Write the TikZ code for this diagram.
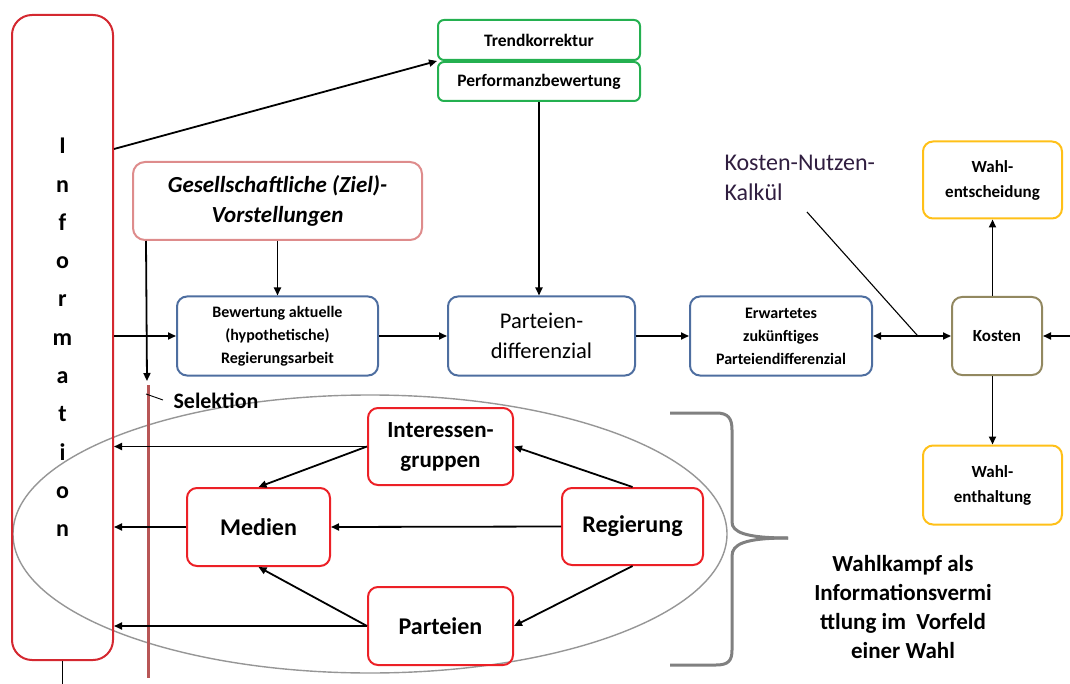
\documentclass[tikz,border=0pt]{standalone}
\usepackage{fontspec}
\setmainfont{Carlito}
\usetikzlibrary{arrows.meta,calc}
\definecolor{infored}{RGB}{212,40,48}
\definecolor{boxred}{RGB}{236,32,38}
\definecolor{zielred}{RGB}{222,140,140}
\definecolor{trendgreen}{RGB}{36,176,80}
\definecolor{bewblue}{RGB}{78,110,160}
\definecolor{kostenolive}{RGB}{146,136,96}
\definecolor{wahlyellow}{RGB}{255,192,24}
\definecolor{selred}{RGB}{184,86,86}
\definecolor{ovalgray}{RGB}{150,150,150}
\definecolor{bracegray}{RGB}{128,128,128}
\definecolor{kalkcol}{RGB}{48,30,64}
\newcommand{\arrowwidth}{1.8pt}
\newcommand{\boxwidth}{2pt}
\tikzset{
  box/.style={draw, rounded corners=10pt, line width=\boxwidth, inner sep=0pt, align=center},
  arr/.style={-{Triangle[length=8pt,width=7pt]}, line width=\arrowwidth},
  darr/.style={{Triangle[length=8pt,width=7pt]}-{Triangle[length=8pt,width=7pt]}, line width=\arrowwidth}
}

\begin{document}
\begin{tikzpicture}[x=1pt,y=-1pt]
\useasboundingbox (0,0) rectangle (1070,684);
%oval and brace
\draw[ovalgray, line width=1.4pt] (370,534) ellipse [x radius=357pt, y radius=139pt];
\draw[bracegray, line width=3pt] (670,413) -- (716,413) .. controls (728,413) and (732,418) .. (732,430) -- (732,522) .. controls (732,532) and (745,538) .. (788,538);
\draw[bracegray, line width=3pt] (788,538) .. controls (745,538) and (732,544) .. (732,556) -- (732,650) .. controls (732,661) and (728,665) .. (716,665) -- (670,665);
%nodes
\node[box, draw=infored, rounded corners=20pt, minimum width=101pt, minimum height=645pt, font=\fontsize{24}{38.3}\selectfont\bfseries] (info) at (62.5,337.5) {I\\n\\f\\o\\r\\m\\a\\t\\i\\o\\n};
\node[box, draw=trendgreen, rounded corners=6pt, minimum width=202pt, minimum height=40pt, font=\fontsize{17.5}{20}\selectfont\bfseries] (trend) at (539,40) {Trendkorrektur};
\node[box, draw=trendgreen, rounded corners=6pt, minimum width=202pt, minimum height=39pt, font=\fontsize{17.5}{20}\selectfont\bfseries] (perf) at (539,81.5) {Performanzbewertung};
\node[box, draw=zielred, rounded corners=12pt, minimum width=289pt, minimum height=78pt, font=\fontsize{23}{30}\selectfont\bfseries\itshape] (ziel) at (277.5,201) {Gesellschaftliche (Ziel)-\\Vorstellungen};
\node[box, draw=bewblue, minimum width=201pt, minimum height=79pt, font=\fontsize{16}{23}\selectfont\bfseries] (bew) at (277.5,336) {Bewertung aktuelle\\(hypothetische)\\Regierungsarbeit};
\node[box, draw=bewblue, minimum width=187pt, minimum height=79pt, font=\fontsize{22.5}{30}\selectfont] (pdiff) at (541.5,336) {Parteien-\\differenzial};
\node[box, draw=bewblue, minimum width=182pt, minimum height=79pt, font=\fontsize{16}{23}\selectfont\bfseries] (erw) at (781,336) {Erwartetes\\zukünftiges\\Parteiendifferenzial};
\node[box, draw=kostenolive, minimum width=90pt, minimum height=78pt, font=\fontsize{17}{20}\selectfont\bfseries] (kosten) at (997,336) {Kosten};
\node[box, draw=wahlyellow, minimum width=139pt, minimum height=77pt, font=\fontsize{17}{25}\selectfont\bfseries] (wahlent) at (992.5,180) {Wahl-\\entscheidung};
\node[box, draw=wahlyellow, minimum width=139pt, minimum height=79pt, font=\fontsize{17}{25}\selectfont\bfseries] (wahlenth) at (992.5,485) {Wahl-\\enthaltung};
\node[box, draw=boxred, minimum width=145pt, minimum height=77pt, font=\fontsize{23}{30}\selectfont\bfseries] (inter) at (440.5,446.5) {Interessen-\\gruppen};
\node[box, draw=boxred, minimum width=143pt, minimum height=78pt, font=\fontsize{24}{30}\selectfont\bfseries] (medien) at (258.5,527) {Medien};
\node[box, draw=boxred, minimum width=141pt, minimum height=77pt, font=\fontsize{24}{30}\selectfont\bfseries] (regier) at (632.5,526.5) {Regierung};
\node[box, draw=boxred, minimum width=145pt, minimum height=78pt, font=\fontsize{24}{30}\selectfont\bfseries] (parteien) at (440.5,626) {Parteien};
%labels
\node[anchor=west, align=left, text=kalkcol, font=\fontsize{24}{30}\selectfont] (kalk) at (721,178) {Kosten-Nutzen-\\Kalkül};
\node[anchor=west, font=\fontsize{22}{26}\selectfont\bfseries] (sel) at (170,401) {Selektion};
\node[align=center, font=\fontsize{23}{29}\selectfont\bfseries] (wahlkampf) at (903,607) {Wahlkampf als\\Informationsvermi\\ttlung im~ Vorfeld\\einer Wahl};
%free ends
\coordinate (selarrow) at (147,381);
\coordinate (seltop) at (148,385);
\coordinate (selbot) at (148,678);
\coordinate (kalkend) at (807,212);
\coordinate (rightin) at (1070,336);
\coordinate (infoout) at (62.5,684);
%connectors
\draw[arr] ([yshift=-135pt]info.north east) -- (perf.north west);
\draw[arr] (perf.south) -- (perf.south |- pdiff.north);
\draw[arr] (ziel.south) -- (bew.north);
\draw[arr] ([xshift=14pt]ziel.south west) -- (selarrow);
\draw[selred, line width=3pt] (seltop) -- (selbot);
\draw[line width=0.9pt] (146,394) -- (163,400);
\draw[arr] (info.east |- bew.west) -- (bew.west);
\draw[arr] (bew.east) -- (pdiff.west);
\draw[arr] (pdiff.east) -- (erw.west);
\draw[darr] (erw.east) -- (kosten.west);
\draw[line width=1.1pt] (kalkend) -- ($(erw.east)!0.575!(kosten.west)$);
\draw[arr] (rightin) -- (kosten.east);
\draw[arr] (kosten.north -| wahlent.south) -- (wahlent.south);
\draw[arr] (kosten.south -| wahlenth.north) -- (wahlenth.north);
\draw[line width=\arrowwidth] (info.south) -- (infoout);
\draw[arr] (inter.west) -- (inter.west -| info.east);
\draw[arr] (inter.west) -- (medien.north);
\draw[arr] (medien.west) -- (medien.west -| info.east);
\draw[arr] (regier.west) -- (medien.east);
\draw[arr] (parteien.west) -- (parteien.west -| info.east);
\draw[arr] (parteien.west) -- (medien.south);
\draw[arr] (regier.north) -- (inter.east);
\draw[arr] (regier.south) -- (parteien.east);
\end{tikzpicture}
\end{document}
